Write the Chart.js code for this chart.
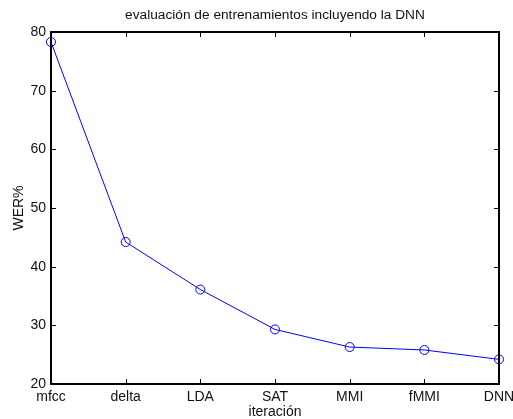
<!DOCTYPE html>
<html>
<head>
<meta charset="utf-8">
<script src="https://cdn.jsdelivr.net/npm/chart.js@4"></script>
<style>
  html, body { margin: 0; padding: 0; background: #fff; }
  #wrap { width: 513px; height: 419px; }
</style>
</head>
<body>
<div id="wrap"><canvas id="werChart"></canvas></div>
<script>
// etapas de entrenamiento y WER obtenido en cada una
const etapas = ["mfcc", "delta", "LDA", "SAT", "MMI", "fMMI", "DNN"];
const wer = [78.3, 44.2, 36.1, 29.3, 26.3, 25.8, 24.2];
const yTicks = [20, 30, 40, 50, 60, 70, 80];

const titulo = "evaluación de entrenamientos incluyendo la DNN";
const FONT = "'Liberation Sans', Arial, Helvetica, sans-serif";

// caja negra alrededor del area con marcas hacia dentro (estilo matlab)
const cajaPlugin = {
    id: "caja",
    afterDraw(chart) {
        const { ctx, chartArea: a, scales } = chart;
        const len = 5;
        ctx.save();
        ctx.strokeStyle = "#000";
        ctx.lineWidth = 1;
        ctx.beginPath();
        scales.x.ticks.forEach((t, i) => {
            const x = Math.round(scales.x.getPixelForTick(i)) + 0.5;
            ctx.moveTo(x, a.bottom); ctx.lineTo(x, a.bottom - len);
            ctx.moveTo(x, a.top); ctx.lineTo(x, a.top + len);
        });
        yTicks.forEach(v => {
            const y = Math.round(scales.y.getPixelForValue(v)) + 0.5;
            ctx.moveTo(a.left, y); ctx.lineTo(a.left + len, y);
            ctx.moveTo(a.right, y); ctx.lineTo(a.right - len, y);
        });
        ctx.stroke();
        ctx.lineWidth = 2;
        ctx.strokeRect(a.left, a.top, a.right - a.left, a.bottom - a.top);

        ctx.fillStyle = "#111";
        ctx.font = "13.7px " + FONT;
        ctx.textAlign = "center";
        ctx.textBaseline = "middle";
        ctx.fillText(titulo, (a.left + a.right) / 2, 15);
        ctx.restore();
    }
};

const ctx = document.getElementById("werChart").getContext("2d");
new Chart(ctx, {
    type: "line",
    data: {
        labels: etapas,
        datasets: [{
            label: "WER%",
            data: wer,
            borderColor: "#0000ff",
            borderWidth: 1,
            pointStyle: "circle",
            pointRadius: 4.5,
            pointBorderWidth: 1,
            pointBorderColor: "#0000ff",
            pointBackgroundColor: "rgba(0,0,0,0)",
            tension: 0
        }]
    },
    options: {
        responsive: true,
        maintainAspectRatio: false,
        animation: false,
        layout: { padding: { left: 0, top: 32, right: 14, bottom: 0 } },
        plugins: {
            legend: { display: false },
            tooltip: { enabled: false }
        },
        scales: {
            x: {
                offset: false,
                grid: { display: false, drawTicks: false },
                border: { display: false },
                ticks: {
                    color: "#111",
                    font: { family: FONT, size: 14 },
                    padding: 5,
                    autoSkip: false,
                    maxRotation: 0
                },
                title: {
                    display: true,
                    text: "iteración",
                    color: "#111",
                    font: { family: FONT, size: 14, lineHeight: 1 },
                    padding: { top: 0, bottom: 0 }
                },
                afterFit(scale) {
                    scale.height = 35;
                    // las etiquetas de los extremos pueden salirse del area
                    scale.paddingLeft = 0;
                    scale.paddingRight = 0;
                }
            },
            y: {
                min: 20,
                max: 80,
                grid: { display: false, drawTicks: false },
                border: { display: false },
                ticks: {
                    stepSize: 10,
                    color: "#111",
                    font: { family: FONT, size: 14 },
                    padding: 5
                },
                title: {
                    display: true,
                    text: "WER%",
                    color: "#111",
                    font: { family: FONT, size: 14, lineHeight: 1 },
                    padding: { top: 12, bottom: 0 }
                },
                afterFit(scale) { scale.width = 51; }
            }
        }
    },
    plugins: [cajaPlugin]
});
</script>
</body>
</html>
